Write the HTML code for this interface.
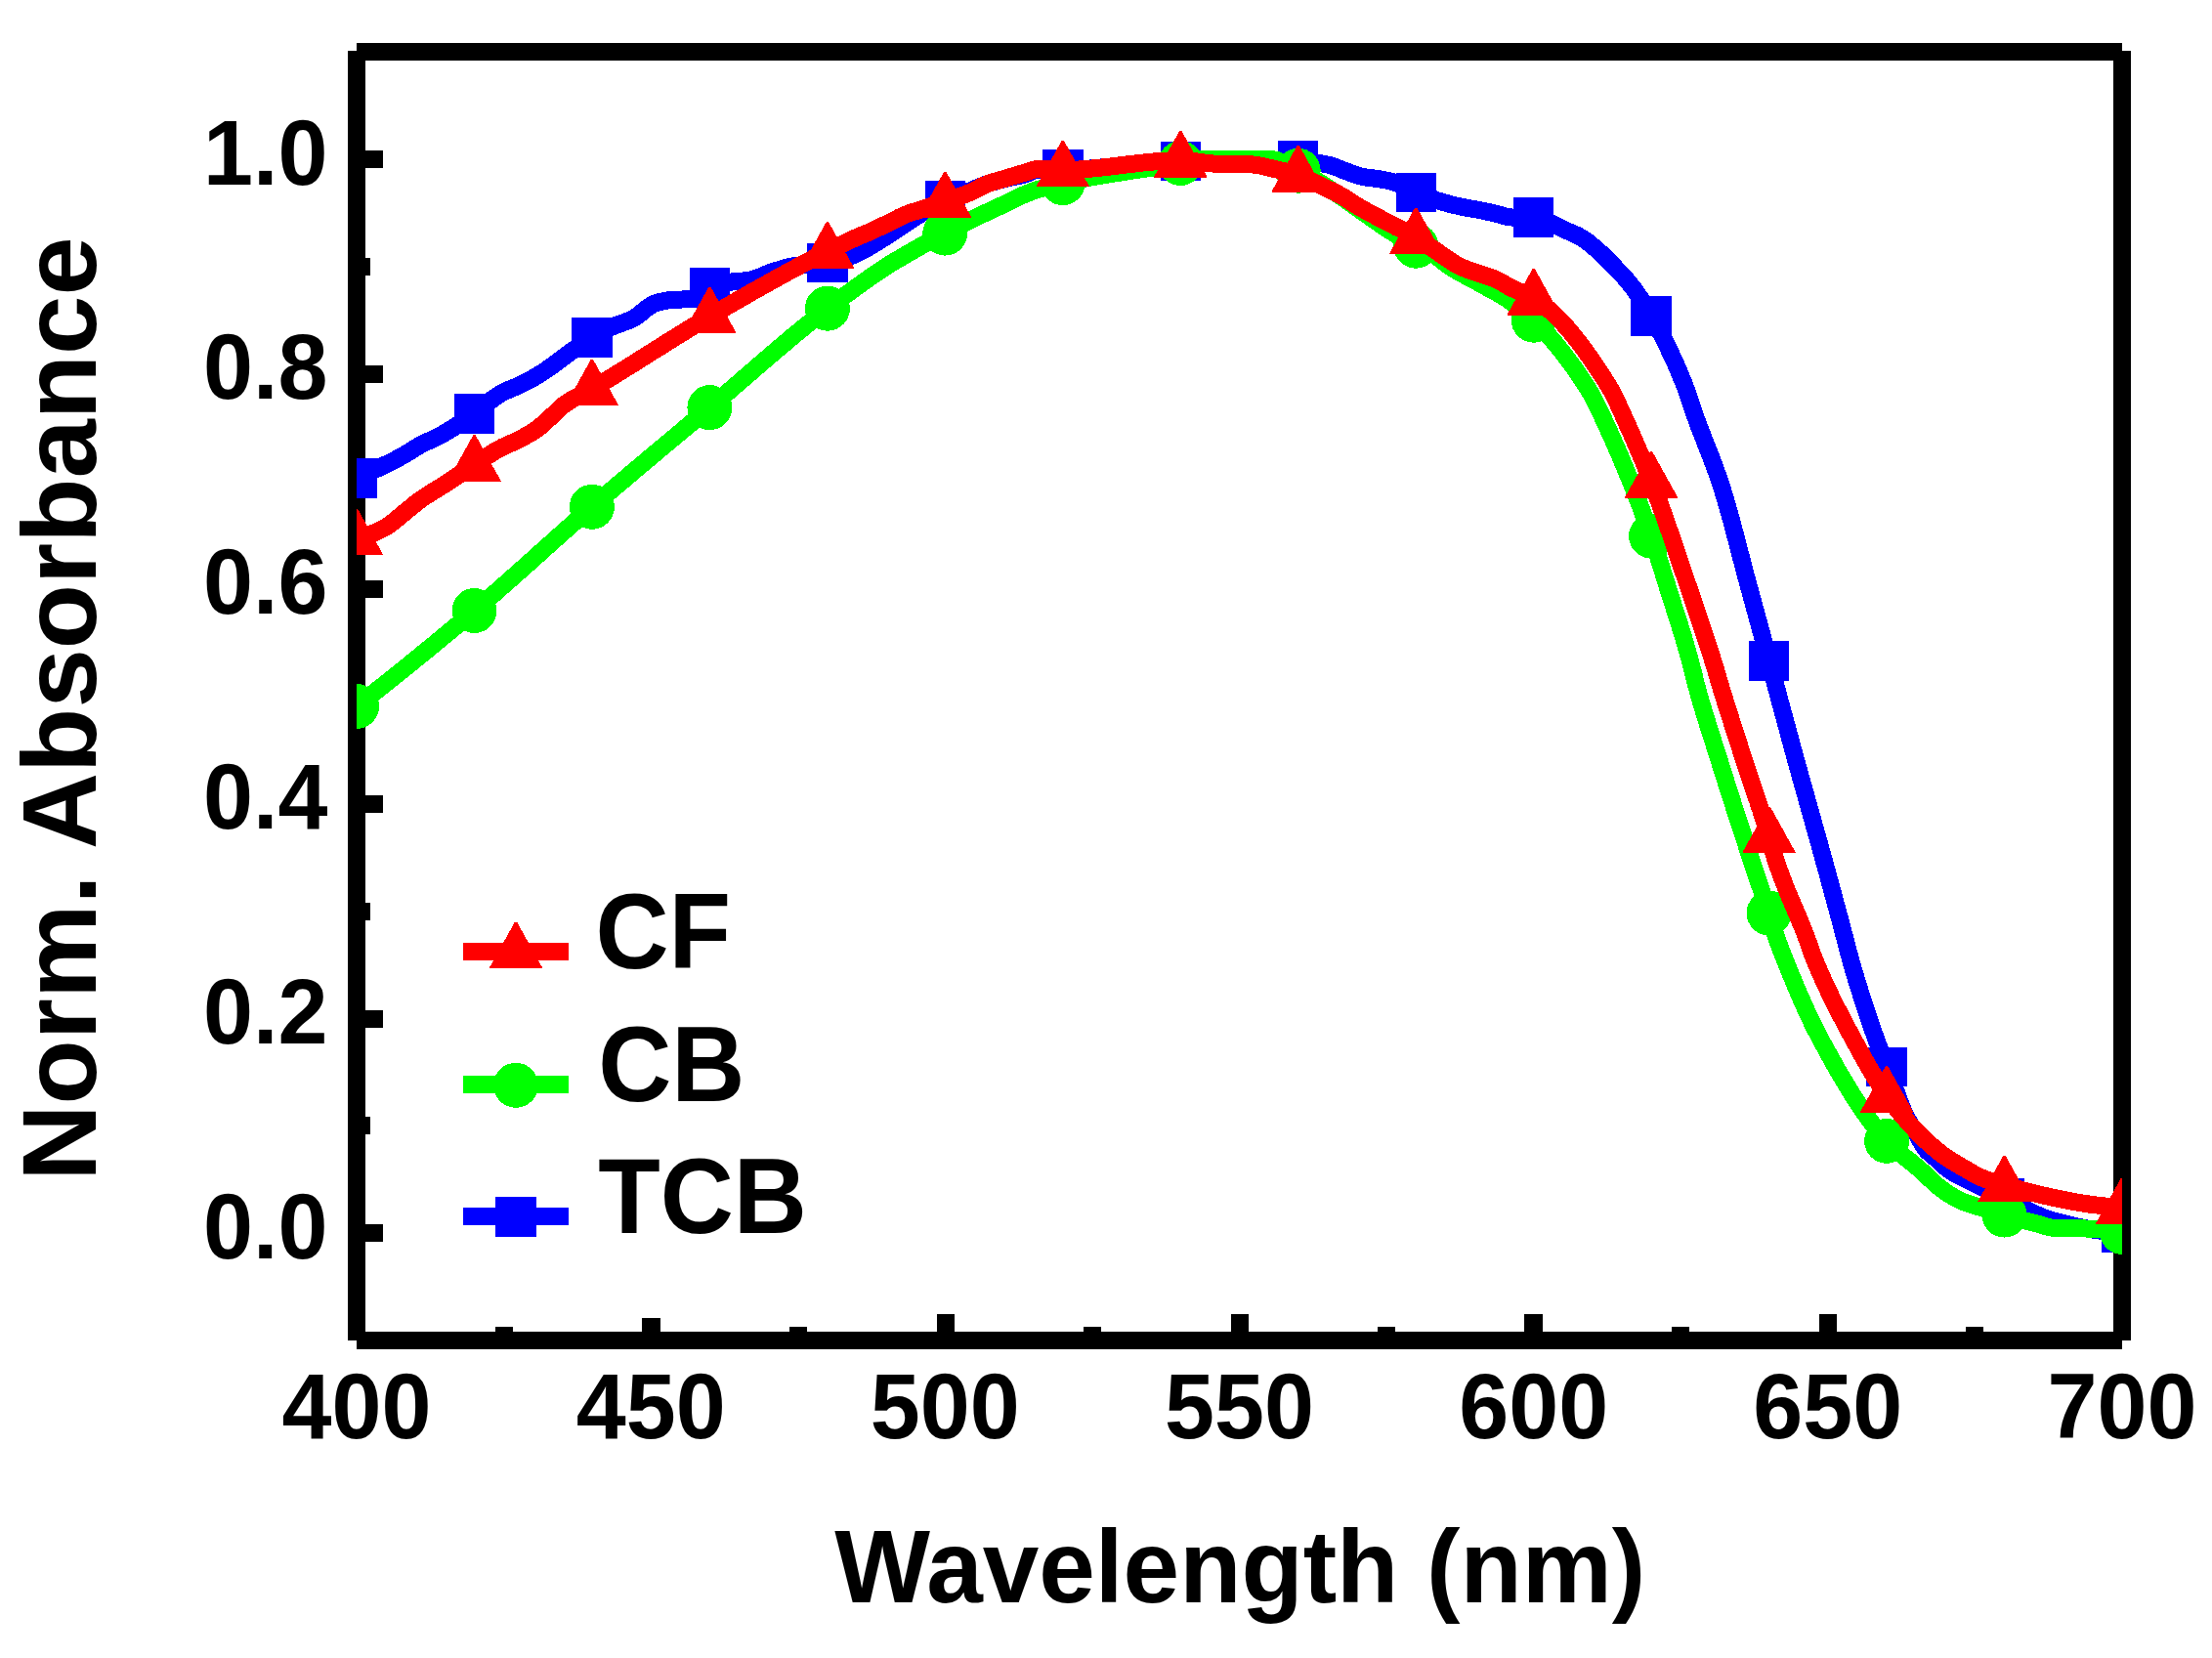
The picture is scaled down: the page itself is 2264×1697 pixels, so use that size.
<!DOCTYPE html>
<html><head><meta charset="utf-8"><title>Absorbance</title><style>html,body{margin:0;padding:0;background:#fff}body{width:2264px;height:1697px;overflow:hidden}text{font-family:"Liberation Sans",Arial,sans-serif;font-weight:bold}</style></head><body>
<svg width="2264" height="1697" viewBox="0 0 2264 1697" style="display:block" shape-rendering="crispEdges">
<rect width="2264" height="1697" fill="#fff"/>
<g fill="#000">
<rect x="365" y="44" width="1807" height="18"/><rect x="365" y="1363" width="1807" height="18"/><rect x="356" y="52" width="18" height="1320"/><rect x="2163" y="52" width="18" height="1320"/>
</g>
<g fill="#000">
<rect x="365" y="1253" width="27" height="18"/>
<rect x="365" y="1034" width="27" height="18"/>
<rect x="365" y="814" width="27" height="18"/>
<rect x="365" y="594" width="27" height="18"/>
<rect x="365" y="374" width="27" height="18"/>
<rect x="365" y="154" width="27" height="18"/>
<rect x="365" y="1363" width="14" height="18"/>
<rect x="365" y="1143" width="14" height="18"/>
<rect x="365" y="924" width="14" height="18"/>
<rect x="365" y="704" width="14" height="18"/>
<rect x="365" y="484" width="14" height="18"/>
<rect x="365" y="264" width="14" height="18"/>
<rect x="657" y="1349" width="19" height="23"/>
<rect x="959" y="1345" width="18" height="27"/>
<rect x="1260" y="1345" width="18" height="27"/>
<rect x="1560" y="1345" width="19" height="27"/>
<rect x="1862" y="1345" width="18" height="27"/>
<rect x="507" y="1358" width="18" height="14"/>
<rect x="808" y="1358" width="18" height="14"/>
<rect x="1109" y="1358" width="18" height="14"/>
<rect x="1410" y="1358" width="18" height="14"/>
<rect x="1711" y="1358" width="18" height="14"/>
<rect x="2012" y="1358" width="18" height="14"/>
</g>
<clipPath id="c"><rect x="365.0" y="53.0" width="1807.0" height="1319.0"/></clipPath>
<g clip-path="url(#c)" stroke-linejoin="round" fill="none">
<path d="M365.0,489.2 L368.0,487.9 L371.0,486.6 L374.0,485.2 L377.0,483.9 L380.0,482.5 L383.0,481.1 L386.0,479.7 L389.0,478.3 L392.0,476.8 L395.0,475.3 L398.0,473.9 L401.0,472.4 L404.0,470.9 L407.0,469.3 L410.0,467.7 L413.0,466.0 L416.0,464.3 L419.0,462.4 L422.0,460.5 L425.0,458.6 L428.0,456.8 L431.0,455.1 L434.0,453.6 L437.0,452.2 L440.0,450.9 L443.0,449.5 L446.0,448.1 L449.0,446.6 L452.0,444.9 L455.0,443.2 L458.0,441.5 L461.0,439.6 L464.0,437.8 L467.0,435.9 L470.0,433.9 L473.0,431.9 L476.0,429.9 L479.0,427.9 L482.0,425.8 L485.0,423.7 L488.0,421.6 L491.0,419.3 L494.0,416.8 L497.0,414.3 L500.0,411.8 L503.0,409.4 L506.0,407.1 L509.0,405.0 L512.0,403.1 L515.0,401.5 L518.0,400.1 L521.0,398.8 L524.0,397.6 L527.0,396.4 L530.0,395.0 L533.0,393.6 L536.0,392.1 L539.0,390.6 L542.0,389.0 L545.0,387.4 L548.0,385.7 L551.0,383.9 L554.0,382.0 L557.0,380.0 L560.0,378.0 L563.0,375.9 L566.0,373.7 L569.0,371.5 L572.0,369.3 L575.0,367.1 L578.0,364.8 L581.0,362.6 L584.0,360.3 L587.0,358.1 L590.0,356.0 L593.0,353.8 L596.0,351.7 L599.0,349.7 L602.0,347.8 L605.0,345.9 L608.0,344.2 L611.0,342.4 L614.0,340.7 L617.0,339.1 L620.0,337.5 L623.0,336.1 L626.0,334.7 L629.0,333.4 L632.0,332.3 L635.0,331.2 L638.0,330.2 L641.0,329.1 L644.0,327.9 L647.0,326.5 L650.0,324.8 L653.0,322.7 L656.0,320.4 L659.0,317.9 L662.0,315.5 L665.0,313.4 L668.0,311.6 L671.0,310.2 L674.0,309.4 L677.0,308.7 L680.0,308.1 L683.0,307.5 L686.0,307.1 L689.0,306.8 L692.0,306.7 L695.0,306.6 L698.0,306.5 L701.0,306.3 L704.0,306.2 L707.0,305.7 L710.0,304.8 L713.0,303.6 L716.0,302.3 L719.0,300.9 L722.0,299.4 L725.0,298.1 L728.0,296.8 L731.0,295.4 L734.0,293.9 L737.0,292.4 L740.0,291.0 L743.0,289.8 L746.0,289.0 L749.0,288.5 L752.0,288.2 L755.0,287.9 L758.0,287.7 L761.0,287.5 L764.0,287.2 L767.0,286.8 L770.0,286.1 L773.0,285.2 L776.0,284.0 L779.0,282.8 L782.0,281.6 L785.0,280.4 L788.0,279.2 L791.0,278.0 L794.0,277.1 L797.0,276.2 L800.0,275.3 L803.0,274.4 L806.0,273.6 L809.0,272.9 L812.0,272.3 L815.0,271.8 L818.0,271.4 L821.0,271.0 L824.0,270.8 L827.0,270.5 L830.0,270.3 L833.0,270.2 L836.0,270.0 L839.0,269.8 L842.0,269.5 L845.0,269.2 L848.0,268.9 L851.0,268.4 L854.0,267.8 L857.0,267.0 L860.0,266.2 L863.0,265.2 L866.0,264.2 L869.0,263.0 L872.0,261.8 L875.0,260.4 L878.0,259.0 L881.0,257.5 L884.0,255.9 L887.0,254.3 L890.0,252.6 L893.0,250.8 L896.0,249.0 L899.0,247.2 L902.0,245.3 L905.0,243.4 L908.0,241.4 L911.0,239.5 L914.0,237.5 L917.0,235.5 L920.0,233.5 L923.0,231.5 L926.0,229.5 L929.0,227.5 L932.0,225.5 L935.0,223.6 L938.0,221.7 L941.0,219.8 L944.0,217.9 L947.0,216.1 L950.0,214.4 L953.0,212.7 L956.0,211.0 L959.0,209.5 L962.0,208.0 L965.0,206.5 L968.0,205.2 L971.0,203.9 L974.0,202.7 L977.0,201.5 L980.0,200.3 L983.0,199.2 L986.0,198.0 L989.0,196.8 L992.0,195.7 L995.0,194.4 L998.0,193.2 L1001.0,191.9 L1004.0,190.7 L1007.0,189.5 L1010.0,188.4 L1013.0,187.4 L1016.0,186.4 L1019.0,185.6 L1022.0,184.7 L1025.0,183.9 L1028.0,183.1 L1031.0,182.5 L1034.0,181.8 L1037.0,181.2 L1040.0,180.5 L1043.0,179.9 L1046.0,179.2 L1049.0,178.4 L1052.0,177.3 L1055.0,176.0 L1058.0,174.7 L1061.0,173.8 L1064.0,173.5 L1067.0,173.5 L1070.0,173.5 L1073.0,173.5 L1076.0,173.6 L1079.0,173.6 L1082.0,173.6 L1085.0,173.6 L1088.0,173.6 L1091.0,173.6 L1094.0,173.5 L1097.0,173.5 L1100.0,173.4 L1103.0,173.2 L1106.0,173.1 L1109.0,172.9 L1112.0,172.7 L1115.0,172.5 L1118.0,172.3 L1121.0,172.0 L1124.0,171.8 L1127.0,171.5 L1130.0,171.2 L1133.0,170.9 L1136.0,170.6 L1139.0,170.3 L1142.0,170.0 L1145.0,169.6 L1148.0,169.3 L1151.0,169.0 L1154.0,168.7 L1157.0,168.4 L1160.0,168.1 L1163.0,167.7 L1166.0,167.4 L1169.0,167.2 L1172.0,166.9 L1175.0,166.6 L1178.0,166.4 L1181.0,166.1 L1184.0,165.9 L1187.0,165.7 L1190.0,165.5 L1193.0,165.3 L1196.0,165.2 L1199.0,165.1 L1202.0,165.0 L1205.0,164.9 L1208.0,164.9 L1211.0,164.9 L1214.0,164.9 L1217.0,164.9 L1220.0,164.8 L1223.0,164.8 L1226.0,164.8 L1229.0,164.8 L1232.0,164.8 L1235.0,164.8 L1238.0,164.8 L1241.0,164.8 L1244.0,164.8 L1247.0,164.7 L1250.0,164.7 L1253.0,164.7 L1256.0,164.7 L1259.0,164.7 L1262.0,164.7 L1265.0,164.7 L1268.0,164.7 L1271.0,164.7 L1274.0,164.7 L1277.0,164.7 L1280.0,164.7 L1283.0,164.6 L1286.0,164.6 L1289.0,164.6 L1292.0,164.6 L1295.0,164.6 L1298.0,164.6 L1301.0,164.6 L1304.0,164.6 L1307.0,164.6 L1310.0,164.6 L1313.0,164.6 L1316.0,164.6 L1319.0,164.6 L1322.0,164.6 L1325.0,164.6 L1328.0,164.6 L1331.0,164.6 L1334.0,164.8 L1337.0,165.0 L1340.0,165.3 L1343.0,165.7 L1346.0,166.1 L1349.0,166.6 L1352.0,167.2 L1355.0,167.8 L1358.0,168.4 L1361.0,169.0 L1364.0,169.9 L1367.0,171.0 L1370.0,172.2 L1373.0,173.5 L1376.0,174.7 L1379.0,175.8 L1382.0,176.9 L1385.0,178.0 L1388.0,179.0 L1391.0,179.9 L1394.0,180.7 L1397.0,181.3 L1400.0,181.8 L1403.0,182.2 L1406.0,182.5 L1409.0,182.9 L1412.0,183.3 L1415.0,183.8 L1418.0,184.4 L1421.0,185.0 L1424.0,185.8 L1427.0,186.6 L1430.0,187.7 L1433.0,188.9 L1436.0,190.4 L1439.0,191.9 L1442.0,193.5 L1445.0,195.0 L1448.0,196.4 L1451.0,197.6 L1454.0,198.8 L1457.0,200.0 L1460.0,201.2 L1463.0,202.3 L1466.0,203.4 L1469.0,204.5 L1472.0,205.5 L1475.0,206.4 L1478.0,207.3 L1481.0,208.1 L1484.0,208.9 L1487.0,209.7 L1490.0,210.4 L1493.0,211.0 L1496.0,211.7 L1499.0,212.3 L1502.0,212.8 L1505.0,213.4 L1508.0,213.9 L1511.0,214.4 L1514.0,215.0 L1517.0,215.6 L1520.0,216.3 L1523.0,216.9 L1526.0,217.5 L1529.0,218.2 L1532.0,218.9 L1535.0,219.8 L1538.0,220.7 L1541.0,221.5 L1544.0,222.2 L1547.0,222.5 L1550.0,222.5 L1553.0,222.5 L1556.0,222.4 L1559.0,222.4 L1562.0,222.4 L1565.0,222.3 L1568.0,222.3 L1571.0,222.3 L1574.0,222.7 L1577.0,223.5 L1580.0,224.6 L1583.0,225.9 L1586.0,227.4 L1589.0,229.0 L1592.0,230.6 L1595.0,232.2 L1598.0,233.7 L1601.0,235.1 L1604.0,236.4 L1607.0,237.6 L1610.0,238.9 L1613.0,240.3 L1616.0,241.8 L1619.0,243.5 L1622.0,245.4 L1625.0,247.6 L1628.0,250.0 L1631.0,252.5 L1634.0,255.1 L1637.0,257.8 L1640.0,260.5 L1643.0,263.4 L1646.0,266.4 L1649.0,269.5 L1652.0,272.6 L1655.0,275.8 L1658.0,278.9 L1661.0,282.1 L1664.0,285.5 L1667.0,289.0 L1670.0,292.8 L1673.0,296.8 L1676.0,301.0 L1679.0,305.4 L1682.0,310.0 L1685.0,314.8 L1688.0,319.8 L1691.0,325.0 L1694.0,330.3 L1697.0,335.7 L1700.0,341.4 L1703.0,347.2 L1706.0,353.2 L1709.0,359.4 L1712.0,365.8 L1715.0,372.4 L1718.0,379.3 L1721.0,386.5 L1724.0,393.9 L1727.0,401.6 L1730.0,410.7 L1733.0,420.0 L1736.0,428.5 L1739.0,436.5 L1742.0,444.4 L1745.0,452.0 L1748.0,459.7 L1751.0,467.4 L1754.0,475.3 L1757.0,483.5 L1760.0,492.1 L1763.0,501.3 L1766.0,511.1 L1769.0,521.5 L1772.0,532.3 L1775.0,543.6 L1778.0,555.0 L1781.0,566.6 L1784.0,578.2 L1787.0,589.6 L1790.0,600.7 L1793.0,611.7 L1796.0,622.7 L1799.0,633.7 L1802.0,644.7 L1805.0,655.7 L1808.0,666.7 L1811.0,677.8 L1814.0,688.8 L1817.0,699.9 L1820.0,711.1 L1823.0,722.2 L1826.0,733.3 L1829.0,744.4 L1832.0,755.5 L1835.0,766.5 L1838.0,777.5 L1841.0,788.3 L1844.0,799.1 L1847.0,809.9 L1850.0,820.5 L1853.0,831.2 L1856.0,841.9 L1859.0,852.6 L1862.0,863.3 L1865.0,874.2 L1868.0,885.1 L1871.0,896.1 L1874.0,907.1 L1877.0,918.1 L1880.0,929.3 L1883.0,940.4 L1886.0,951.7 L1889.0,963.1 L1892.0,974.8 L1895.0,985.6 L1898.0,995.9 L1901.0,1005.8 L1904.0,1015.5 L1907.0,1024.9 L1910.0,1034.1 L1913.0,1043.0 L1916.0,1051.7 L1919.0,1060.3 L1922.0,1068.5 L1925.0,1076.3 L1928.0,1084.0 L1931.0,1091.7 L1934.0,1099.7 L1937.0,1107.8 L1940.0,1115.7 L1943.0,1123.8 L1946.0,1131.8 L1949.0,1139.0 L1952.0,1144.8 L1955.0,1150.0 L1958.0,1154.8 L1961.0,1159.4 L1964.0,1164.6 L1967.0,1170.3 L1970.0,1175.1 L1973.0,1178.4 L1976.0,1181.1 L1979.0,1183.6 L1982.0,1186.1 L1985.0,1188.8 L1988.0,1191.7 L1991.0,1194.5 L1994.0,1197.0 L1997.0,1199.0 L2000.0,1200.8 L2003.0,1202.4 L2006.0,1204.0 L2009.0,1205.5 L2012.0,1207.0 L2015.0,1208.4 L2018.0,1209.9 L2021.0,1211.4 L2024.0,1212.9 L2027.0,1214.4 L2030.0,1215.9 L2033.0,1217.4 L2036.0,1218.9 L2039.0,1220.4 L2042.0,1221.9 L2045.0,1223.4 L2048.0,1224.8 L2051.0,1226.3 L2054.0,1227.7 L2057.0,1229.2 L2060.0,1230.7 L2063.0,1232.3 L2066.0,1233.8 L2069.0,1235.4 L2072.0,1236.9 L2075.0,1238.5 L2078.0,1240.0 L2081.0,1241.4 L2084.0,1242.8 L2087.0,1244.2 L2090.0,1245.5 L2093.0,1246.7 L2096.0,1247.8 L2099.0,1248.7 L2102.0,1249.6 L2105.0,1250.4 L2108.0,1251.1 L2111.0,1251.8 L2114.0,1252.6 L2117.0,1253.3 L2120.0,1254.0 L2123.0,1254.7 L2126.0,1255.4 L2129.0,1256.0 L2132.0,1256.6 L2135.0,1257.2 L2138.0,1257.8 L2141.0,1258.3 L2144.0,1258.8 L2147.0,1259.3 L2150.0,1259.7 L2153.0,1260.1 L2156.0,1260.4 L2159.0,1260.7 L2162.0,1260.9 L2165.0,1261.1 L2168.0,1261.2 L2171.0,1261.3 L2172.0,1261.3" stroke="#0000ff" stroke-width="18"/>
<rect x="344.3" y="468.8" width="41.4" height="40.8" fill="#0000ff"/>
<rect x="464.8" y="403.0" width="41.4" height="40.8" fill="#0000ff"/>
<rect x="585.2" y="325.0" width="41.4" height="40.8" fill="#0000ff"/>
<rect x="705.7" y="273.9" width="41.4" height="40.8" fill="#0000ff"/>
<rect x="826.2" y="248.6" width="41.4" height="40.8" fill="#0000ff"/>
<rect x="946.6" y="185.1" width="41.4" height="40.8" fill="#0000ff"/>
<rect x="1067.1" y="153.2" width="41.4" height="40.8" fill="#0000ff"/>
<rect x="1187.6" y="144.5" width="41.4" height="40.8" fill="#0000ff"/>
<rect x="1308.0" y="144.2" width="41.4" height="40.8" fill="#0000ff"/>
<rect x="1428.5" y="176.5" width="41.4" height="40.8" fill="#0000ff"/>
<rect x="1549.0" y="201.9" width="41.4" height="40.8" fill="#0000ff"/>
<rect x="1669.4" y="303.0" width="41.4" height="40.8" fill="#0000ff"/>
<rect x="1789.9" y="655.9" width="41.4" height="40.8" fill="#0000ff"/>
<rect x="1910.4" y="1071.6" width="41.4" height="40.8" fill="#0000ff"/>
<rect x="2030.8" y="1206.1" width="41.4" height="40.8" fill="#0000ff"/>
<rect x="2151.3" y="1240.9" width="41.4" height="40.8" fill="#0000ff"/>
<path d="M365.0,722.9 L368.0,720.6 L371.0,718.2 L374.0,715.9 L377.0,713.5 L380.0,711.2 L383.0,708.8 L386.0,706.4 L389.0,704.1 L392.0,701.7 L395.0,699.3 L398.0,696.9 L401.0,694.5 L404.0,692.1 L407.0,689.7 L410.0,687.3 L413.0,684.9 L416.0,682.5 L419.0,680.0 L422.0,677.6 L425.0,675.2 L428.0,672.7 L431.0,670.3 L434.0,667.8 L437.0,665.4 L440.0,662.9 L443.0,660.5 L446.0,658.0 L449.0,655.5 L452.0,653.0 L455.0,650.5 L458.0,648.1 L461.0,645.6 L464.0,643.1 L467.0,640.6 L470.0,638.0 L473.0,635.5 L476.0,633.0 L479.0,630.5 L482.0,628.0 L485.0,625.4 L488.0,622.9 L491.0,620.3 L494.0,617.8 L497.0,615.2 L500.0,612.6 L503.0,610.0 L506.0,607.4 L509.0,604.8 L512.0,602.1 L515.0,599.5 L518.0,596.8 L521.0,594.2 L524.0,591.5 L527.0,588.9 L530.0,586.2 L533.0,583.5 L536.0,580.8 L539.0,578.2 L542.0,575.5 L545.0,572.8 L548.0,570.1 L551.0,567.4 L554.0,564.7 L557.0,562.0 L560.0,559.3 L563.0,556.7 L566.0,554.0 L569.0,551.3 L572.0,548.6 L575.0,545.9 L578.0,543.3 L581.0,540.6 L584.0,538.0 L587.0,535.3 L590.0,532.7 L593.0,530.0 L596.0,527.4 L599.0,524.8 L602.0,522.2 L605.0,519.6 L608.0,517.0 L611.0,514.4 L614.0,511.8 L617.0,509.3 L620.0,506.7 L623.0,504.1 L626.0,501.6 L629.0,499.0 L632.0,496.5 L635.0,493.9 L638.0,491.4 L641.0,488.8 L644.0,486.3 L647.0,483.8 L650.0,481.2 L653.0,478.7 L656.0,476.2 L659.0,473.7 L662.0,471.1 L665.0,468.6 L668.0,466.1 L671.0,463.6 L674.0,461.1 L677.0,458.5 L680.0,456.0 L683.0,453.5 L686.0,451.0 L689.0,448.5 L692.0,446.0 L695.0,443.5 L698.0,441.0 L701.0,438.4 L704.0,435.9 L707.0,433.4 L710.0,430.9 L713.0,428.4 L716.0,425.9 L719.0,423.3 L722.0,420.8 L725.0,418.3 L728.0,415.8 L731.0,413.2 L734.0,410.7 L737.0,408.1 L740.0,405.5 L743.0,403.0 L746.0,400.4 L749.0,397.8 L752.0,395.2 L755.0,392.7 L758.0,390.1 L761.0,387.5 L764.0,384.9 L767.0,382.3 L770.0,379.7 L773.0,377.1 L776.0,374.5 L779.0,371.9 L782.0,369.3 L785.0,366.8 L788.0,364.2 L791.0,361.6 L794.0,359.0 L797.0,356.5 L800.0,353.9 L803.0,351.4 L806.0,348.9 L809.0,346.3 L812.0,343.8 L815.0,341.3 L818.0,338.9 L821.0,336.4 L824.0,333.9 L827.0,331.5 L830.0,329.1 L833.0,326.6 L836.0,324.2 L839.0,321.9 L842.0,319.5 L845.0,317.2 L848.0,314.9 L851.0,312.6 L854.0,310.3 L857.0,308.1 L860.0,305.9 L863.0,303.8 L866.0,301.6 L869.0,299.4 L872.0,297.3 L875.0,295.1 L878.0,292.9 L881.0,290.8 L884.0,288.6 L887.0,286.4 L890.0,284.3 L893.0,282.2 L896.0,280.2 L899.0,278.1 L902.0,276.1 L905.0,274.1 L908.0,272.1 L911.0,270.3 L914.0,268.4 L917.0,266.6 L920.0,264.9 L923.0,263.2 L926.0,261.5 L929.0,259.7 L932.0,258.0 L935.0,256.2 L938.0,254.5 L941.0,252.8 L944.0,251.1 L947.0,249.5 L950.0,247.8 L953.0,246.2 L956.0,244.6 L959.0,243.0 L962.0,241.4 L965.0,239.8 L968.0,238.2 L971.0,236.7 L974.0,235.1 L977.0,233.6 L980.0,232.0 L983.0,230.5 L986.0,229.0 L989.0,227.5 L992.0,226.0 L995.0,224.5 L998.0,223.0 L1001.0,221.6 L1004.0,220.1 L1007.0,218.7 L1010.0,217.3 L1013.0,215.9 L1016.0,214.5 L1019.0,213.1 L1022.0,211.7 L1025.0,210.3 L1028.0,208.9 L1031.0,207.5 L1034.0,206.1 L1037.0,204.7 L1040.0,203.2 L1043.0,201.7 L1046.0,200.2 L1049.0,198.8 L1052.0,197.6 L1055.0,196.5 L1058.0,195.4 L1061.0,194.4 L1064.0,193.5 L1067.0,192.6 L1070.0,191.7 L1073.0,190.9 L1076.0,190.0 L1079.0,189.2 L1082.0,188.5 L1085.0,187.7 L1088.0,187.1 L1091.0,186.4 L1094.0,185.8 L1097.0,185.2 L1100.0,184.6 L1103.0,184.0 L1106.0,183.4 L1109.0,182.8 L1112.0,182.3 L1115.0,181.7 L1118.0,181.2 L1121.0,180.7 L1124.0,180.2 L1127.0,179.7 L1130.0,179.2 L1133.0,178.7 L1136.0,178.2 L1139.0,177.7 L1142.0,177.2 L1145.0,176.8 L1148.0,176.3 L1151.0,175.8 L1154.0,175.4 L1157.0,174.9 L1160.0,174.5 L1163.0,174.0 L1166.0,173.6 L1169.0,173.1 L1172.0,172.7 L1175.0,172.2 L1178.0,171.8 L1181.0,171.3 L1184.0,170.9 L1187.0,170.4 L1190.0,169.9 L1193.0,169.5 L1196.0,169.0 L1199.0,168.5 L1202.0,168.0 L1205.0,167.5 L1208.0,167.1 L1211.0,166.5 L1214.0,165.9 L1217.0,165.2 L1220.0,164.5 L1223.0,163.9 L1226.0,163.4 L1229.0,163.1 L1232.0,163.0 L1235.0,163.0 L1238.0,163.0 L1241.0,163.0 L1244.0,163.0 L1247.0,163.0 L1250.0,163.0 L1253.0,163.0 L1256.0,163.0 L1259.0,163.0 L1262.0,163.0 L1265.0,163.0 L1268.0,163.0 L1271.0,163.0 L1274.0,163.0 L1277.0,163.0 L1280.0,163.0 L1283.0,163.0 L1286.0,163.0 L1289.0,163.0 L1292.0,163.0 L1295.0,163.0 L1298.0,163.0 L1301.0,163.0 L1304.0,163.4 L1307.0,164.1 L1310.0,165.2 L1313.0,166.5 L1316.0,168.0 L1319.0,169.6 L1322.0,171.2 L1325.0,172.8 L1328.0,174.4 L1331.0,175.8 L1334.0,177.3 L1337.0,178.9 L1340.0,180.5 L1343.0,182.2 L1346.0,184.0 L1349.0,185.8 L1352.0,187.6 L1355.0,189.5 L1358.0,191.4 L1361.0,193.4 L1364.0,195.4 L1367.0,197.4 L1370.0,199.4 L1373.0,201.5 L1376.0,203.6 L1379.0,205.7 L1382.0,207.8 L1385.0,210.0 L1388.0,212.1 L1391.0,214.2 L1394.0,216.4 L1397.0,218.5 L1400.0,220.6 L1403.0,222.8 L1406.0,224.9 L1409.0,226.9 L1412.0,229.0 L1415.0,231.1 L1418.0,233.1 L1421.0,235.1 L1424.0,237.0 L1427.0,239.0 L1430.0,240.8 L1433.0,242.7 L1436.0,244.5 L1439.0,246.2 L1442.0,247.9 L1445.0,249.5 L1448.0,251.1 L1451.0,252.6 L1454.0,253.9 L1457.0,255.1 L1460.0,256.4 L1463.0,257.8 L1466.0,259.5 L1469.0,261.5 L1472.0,263.7 L1475.0,266.1 L1478.0,268.4 L1481.0,270.7 L1484.0,272.8 L1487.0,274.8 L1490.0,276.6 L1493.0,278.3 L1496.0,280.0 L1499.0,281.7 L1502.0,283.3 L1505.0,284.9 L1508.0,286.5 L1511.0,288.1 L1514.0,289.8 L1517.0,291.5 L1520.0,293.1 L1523.0,294.7 L1526.0,296.4 L1529.0,298.0 L1532.0,299.6 L1535.0,301.4 L1538.0,303.1 L1541.0,305.0 L1544.0,307.0 L1547.0,309.1 L1550.0,311.3 L1553.0,313.5 L1556.0,315.8 L1559.0,318.2 L1562.0,320.7 L1565.0,323.4 L1568.0,326.1 L1571.0,328.9 L1574.0,331.9 L1577.0,334.9 L1580.0,338.1 L1583.0,341.3 L1586.0,344.6 L1589.0,348.1 L1592.0,351.6 L1595.0,355.3 L1598.0,359.0 L1601.0,362.9 L1604.0,366.8 L1607.0,370.9 L1610.0,375.0 L1613.0,379.3 L1616.0,383.7 L1619.0,388.2 L1622.0,392.7 L1625.0,397.4 L1628.0,402.3 L1631.0,407.8 L1634.0,413.8 L1637.0,420.0 L1640.0,426.3 L1643.0,432.7 L1646.0,439.3 L1649.0,445.9 L1652.0,452.6 L1655.0,459.5 L1658.0,466.4 L1661.0,473.5 L1664.0,480.7 L1667.0,488.0 L1670.0,495.5 L1673.0,503.0 L1676.0,510.7 L1679.0,518.5 L1682.0,526.5 L1685.0,534.5 L1688.0,542.8 L1691.0,551.1 L1694.0,560.0 L1697.0,569.3 L1700.0,578.9 L1703.0,588.7 L1706.0,598.4 L1709.0,607.9 L1712.0,617.3 L1715.0,626.7 L1718.0,636.2 L1721.0,645.8 L1724.0,655.7 L1727.0,665.9 L1730.0,676.7 L1733.0,688.5 L1736.0,700.7 L1739.0,711.6 L1742.0,722.0 L1745.0,731.9 L1748.0,741.6 L1751.0,751.1 L1754.0,760.5 L1757.0,769.9 L1760.0,779.4 L1763.0,788.9 L1766.0,798.4 L1769.0,807.8 L1772.0,817.2 L1775.0,826.6 L1778.0,835.9 L1781.0,845.1 L1784.0,854.3 L1787.0,863.5 L1790.0,872.7 L1793.0,881.8 L1796.0,890.8 L1799.0,899.7 L1802.0,908.5 L1805.0,917.4 L1808.0,926.4 L1811.0,935.8 L1814.0,945.8 L1817.0,955.7 L1820.0,964.6 L1823.0,972.6 L1826.0,980.2 L1829.0,987.7 L1832.0,995.1 L1835.0,1002.3 L1838.0,1009.5 L1841.0,1016.6 L1844.0,1023.5 L1847.0,1030.3 L1850.0,1036.9 L1853.0,1043.3 L1856.0,1049.5 L1859.0,1055.4 L1862.0,1061.1 L1865.0,1066.7 L1868.0,1072.2 L1871.0,1077.7 L1874.0,1083.1 L1877.0,1088.5 L1880.0,1093.8 L1883.0,1099.0 L1886.0,1104.1 L1889.0,1109.1 L1892.0,1114.1 L1895.0,1118.9 L1898.0,1123.7 L1901.0,1128.3 L1904.0,1132.8 L1907.0,1137.2 L1910.0,1141.5 L1913.0,1145.7 L1916.0,1149.7 L1919.0,1153.6 L1922.0,1157.4 L1925.0,1161.0 L1928.0,1164.4 L1931.0,1167.7 L1934.0,1170.8 L1937.0,1173.7 L1940.0,1176.4 L1943.0,1179.0 L1946.0,1181.5 L1949.0,1183.9 L1952.0,1186.3 L1955.0,1188.6 L1958.0,1191.0 L1961.0,1193.5 L1964.0,1196.1 L1967.0,1198.7 L1970.0,1201.5 L1973.0,1204.4 L1976.0,1207.3 L1979.0,1210.1 L1982.0,1212.8 L1985.0,1215.3 L1988.0,1217.6 L1991.0,1219.7 L1994.0,1221.7 L1997.0,1223.6 L2000.0,1225.4 L2003.0,1227.1 L2006.0,1228.6 L2009.0,1230.0 L2012.0,1231.1 L2015.0,1232.1 L2018.0,1233.0 L2021.0,1233.9 L2024.0,1234.9 L2027.0,1235.8 L2030.0,1236.8 L2033.0,1237.8 L2036.0,1238.8 L2039.0,1239.7 L2042.0,1240.7 L2045.0,1241.6 L2048.0,1242.6 L2051.0,1243.5 L2054.0,1244.3 L2057.0,1245.2 L2060.0,1246.0 L2063.0,1246.8 L2066.0,1247.6 L2069.0,1248.4 L2072.0,1249.2 L2075.0,1249.9 L2078.0,1250.7 L2081.0,1251.4 L2084.0,1252.2 L2087.0,1253.1 L2090.0,1254.0 L2093.0,1254.9 L2096.0,1255.7 L2099.0,1256.4 L2102.0,1256.8 L2105.0,1257.0 L2108.0,1257.0 L2111.0,1257.1 L2114.0,1257.2 L2117.0,1257.2 L2120.0,1257.3 L2123.0,1257.3 L2126.0,1257.3 L2129.0,1257.4 L2132.0,1257.4 L2135.0,1257.5 L2138.0,1257.5 L2141.0,1257.6 L2144.0,1257.8 L2147.0,1258.0 L2150.0,1258.2 L2153.0,1258.5 L2156.0,1258.8 L2159.0,1259.2 L2162.0,1259.5 L2165.0,1259.9 L2168.0,1260.3 L2171.0,1260.8 L2172.0,1260.9" stroke="#00ff00" stroke-width="18"/>
<circle cx="365.0" cy="722.9" r="23" fill="#00ff00"/>
<circle cx="485.5" cy="625.0" r="23" fill="#00ff00"/>
<circle cx="605.9" cy="518.8" r="23" fill="#00ff00"/>
<circle cx="726.4" cy="417.1" r="23" fill="#00ff00"/>
<circle cx="846.9" cy="315.7" r="23" fill="#00ff00"/>
<circle cx="967.3" cy="238.6" r="23" fill="#00ff00"/>
<circle cx="1087.8" cy="187.1" r="23" fill="#00ff00"/>
<circle cx="1208.3" cy="167.0" r="23" fill="#00ff00"/>
<circle cx="1328.7" cy="174.7" r="23" fill="#00ff00"/>
<circle cx="1449.2" cy="251.7" r="23" fill="#00ff00"/>
<circle cx="1569.7" cy="327.7" r="23" fill="#00ff00"/>
<circle cx="1690.1" cy="548.6" r="23" fill="#00ff00"/>
<circle cx="1810.6" cy="934.5" r="23" fill="#00ff00"/>
<circle cx="1931.1" cy="1167.8" r="23" fill="#00ff00"/>
<circle cx="2051.5" cy="1243.6" r="23" fill="#00ff00"/>
<circle cx="2172.0" cy="1260.9" r="23" fill="#00ff00"/>
<path d="M365.0,551.0 L368.0,550.5 L371.0,549.8 L374.0,548.9 L377.0,547.8 L380.0,546.6 L383.0,545.4 L386.0,544.0 L389.0,542.5 L392.0,540.9 L395.0,539.4 L398.0,537.6 L401.0,535.4 L404.0,533.0 L407.0,530.4 L410.0,527.9 L413.0,525.4 L416.0,523.0 L419.0,520.5 L422.0,518.0 L425.0,515.6 L428.0,513.2 L431.0,511.0 L434.0,509.0 L437.0,507.0 L440.0,505.1 L443.0,503.3 L446.0,501.4 L449.0,499.6 L452.0,497.7 L455.0,495.8 L458.0,493.8 L461.0,491.8 L464.0,489.8 L467.0,487.8 L470.0,485.7 L473.0,483.7 L476.0,481.7 L479.0,479.7 L482.0,477.7 L485.0,475.7 L488.0,473.8 L491.0,471.8 L494.0,469.9 L497.0,467.9 L500.0,466.0 L503.0,464.1 L506.0,462.3 L509.0,460.5 L512.0,458.9 L515.0,457.3 L518.0,455.9 L521.0,454.6 L524.0,453.3 L527.0,451.9 L530.0,450.5 L533.0,448.9 L536.0,447.4 L539.0,445.7 L542.0,444.0 L545.0,442.2 L548.0,440.3 L551.0,438.1 L554.0,435.6 L557.0,433.0 L560.0,430.2 L563.0,427.4 L566.0,424.7 L569.0,421.9 L572.0,418.9 L575.0,416.1 L578.0,413.7 L581.0,411.7 L584.0,409.8 L587.0,408.1 L590.0,406.4 L593.0,404.9 L596.0,403.3 L599.0,401.8 L602.0,400.2 L605.0,398.5 L608.0,396.8 L611.0,395.0 L614.0,393.2 L617.0,391.4 L620.0,389.6 L623.0,387.8 L626.0,386.0 L629.0,384.1 L632.0,382.3 L635.0,380.4 L638.0,378.6 L641.0,376.7 L644.0,374.8 L647.0,373.0 L650.0,371.1 L653.0,369.2 L656.0,367.3 L659.0,365.4 L662.0,363.5 L665.0,361.6 L668.0,359.7 L671.0,357.9 L674.0,356.0 L677.0,354.1 L680.0,352.2 L683.0,350.3 L686.0,348.4 L689.0,346.6 L692.0,344.7 L695.0,342.8 L698.0,341.0 L701.0,339.1 L704.0,337.3 L707.0,335.5 L710.0,333.6 L713.0,331.8 L716.0,330.0 L719.0,328.3 L722.0,326.5 L725.0,324.7 L728.0,323.0 L731.0,321.2 L734.0,319.5 L737.0,317.7 L740.0,316.0 L743.0,314.3 L746.0,312.5 L749.0,310.8 L752.0,309.1 L755.0,307.3 L758.0,305.6 L761.0,303.9 L764.0,302.2 L767.0,300.5 L770.0,298.7 L773.0,297.0 L776.0,295.3 L779.0,293.7 L782.0,292.0 L785.0,290.3 L788.0,288.6 L791.0,286.9 L794.0,285.3 L797.0,283.6 L800.0,282.0 L803.0,280.3 L806.0,278.7 L809.0,277.1 L812.0,275.4 L815.0,273.8 L818.0,272.2 L821.0,270.6 L824.0,269.0 L827.0,267.4 L830.0,265.9 L833.0,264.3 L836.0,262.8 L839.0,261.2 L842.0,259.7 L845.0,258.2 L848.0,256.6 L851.0,255.2 L854.0,253.7 L857.0,252.2 L860.0,250.8 L863.0,249.4 L866.0,248.0 L869.0,246.6 L872.0,245.2 L875.0,243.8 L878.0,242.5 L881.0,241.2 L884.0,240.0 L887.0,238.7 L890.0,237.4 L893.0,236.1 L896.0,234.7 L899.0,233.2 L902.0,231.8 L905.0,230.3 L908.0,228.9 L911.0,227.4 L914.0,225.9 L917.0,224.4 L920.0,222.8 L923.0,221.4 L926.0,220.0 L929.0,218.8 L932.0,217.7 L935.0,216.8 L938.0,215.9 L941.0,215.0 L944.0,214.1 L947.0,213.1 L950.0,212.1 L953.0,211.0 L956.0,210.0 L959.0,208.9 L962.0,207.9 L965.0,206.8 L968.0,205.8 L971.0,204.7 L974.0,203.7 L977.0,202.7 L980.0,201.7 L983.0,200.7 L986.0,199.6 L989.0,198.5 L992.0,197.3 L995.0,196.0 L998.0,194.5 L1001.0,192.9 L1004.0,191.3 L1007.0,189.8 L1010.0,188.5 L1013.0,187.4 L1016.0,186.4 L1019.0,185.5 L1022.0,184.7 L1025.0,183.8 L1028.0,183.0 L1031.0,182.0 L1034.0,181.1 L1037.0,180.2 L1040.0,179.3 L1043.0,178.4 L1046.0,177.5 L1049.0,176.6 L1052.0,175.6 L1055.0,174.6 L1058.0,173.7 L1061.0,173.2 L1064.0,173.0 L1067.0,173.1 L1070.0,173.2 L1073.0,173.3 L1076.0,173.5 L1079.0,173.7 L1082.0,173.9 L1085.0,174.0 L1088.0,174.0 L1091.0,174.0 L1094.0,173.9 L1097.0,173.8 L1100.0,173.7 L1103.0,173.6 L1106.0,173.4 L1109.0,173.2 L1112.0,173.0 L1115.0,172.7 L1118.0,172.5 L1121.0,172.2 L1124.0,171.9 L1127.0,171.6 L1130.0,171.2 L1133.0,170.9 L1136.0,170.6 L1139.0,170.2 L1142.0,169.8 L1145.0,169.5 L1148.0,169.1 L1151.0,168.7 L1154.0,168.4 L1157.0,168.0 L1160.0,167.7 L1163.0,167.3 L1166.0,167.0 L1169.0,166.6 L1172.0,166.3 L1175.0,166.0 L1178.0,165.7 L1181.0,165.5 L1184.0,165.2 L1187.0,165.0 L1190.0,164.8 L1193.0,164.6 L1196.0,164.5 L1199.0,164.4 L1202.0,164.3 L1205.0,164.2 L1208.0,164.2 L1211.0,164.2 L1214.0,164.4 L1217.0,164.6 L1220.0,164.9 L1223.0,165.2 L1226.0,165.6 L1229.0,166.0 L1232.0,166.4 L1235.0,166.8 L1238.0,167.1 L1241.0,167.5 L1244.0,167.7 L1247.0,167.8 L1250.0,167.9 L1253.0,168.0 L1256.0,168.0 L1259.0,168.0 L1262.0,168.0 L1265.0,168.1 L1268.0,168.1 L1271.0,168.1 L1274.0,168.1 L1277.0,168.2 L1280.0,168.3 L1283.0,168.5 L1286.0,168.9 L1289.0,169.4 L1292.0,170.0 L1295.0,170.7 L1298.0,171.4 L1301.0,172.1 L1304.0,172.9 L1307.0,173.6 L1310.0,174.2 L1313.0,174.9 L1316.0,175.6 L1319.0,176.4 L1322.0,177.2 L1325.0,178.0 L1328.0,179.0 L1331.0,180.0 L1334.0,181.2 L1337.0,182.5 L1340.0,184.0 L1343.0,185.4 L1346.0,187.0 L1349.0,188.5 L1352.0,190.0 L1355.0,191.5 L1358.0,192.9 L1361.0,194.3 L1364.0,195.7 L1367.0,197.2 L1370.0,198.8 L1373.0,200.4 L1376.0,202.2 L1379.0,204.1 L1382.0,206.1 L1385.0,208.1 L1388.0,210.0 L1391.0,211.8 L1394.0,213.6 L1397.0,215.2 L1400.0,216.9 L1403.0,218.5 L1406.0,220.1 L1409.0,221.7 L1412.0,223.3 L1415.0,224.9 L1418.0,226.4 L1421.0,228.0 L1424.0,229.6 L1427.0,231.1 L1430.0,232.7 L1433.0,234.2 L1436.0,235.7 L1439.0,237.2 L1442.0,238.8 L1445.0,240.4 L1448.0,242.1 L1451.0,243.9 L1454.0,245.8 L1457.0,247.8 L1460.0,249.8 L1463.0,252.0 L1466.0,254.1 L1469.0,256.2 L1472.0,258.3 L1475.0,260.4 L1478.0,262.4 L1481.0,264.4 L1484.0,266.5 L1487.0,268.5 L1490.0,270.4 L1493.0,272.1 L1496.0,273.5 L1499.0,274.7 L1502.0,275.9 L1505.0,276.9 L1508.0,277.9 L1511.0,278.9 L1514.0,280.0 L1517.0,281.0 L1520.0,281.9 L1523.0,282.9 L1526.0,283.9 L1529.0,285.1 L1532.0,286.4 L1535.0,288.0 L1538.0,289.7 L1541.0,291.4 L1544.0,293.2 L1547.0,294.8 L1550.0,296.2 L1553.0,297.5 L1556.0,298.8 L1559.0,300.0 L1562.0,301.3 L1565.0,302.6 L1568.0,304.2 L1571.0,306.0 L1574.0,308.0 L1577.0,310.1 L1580.0,312.4 L1583.0,314.8 L1586.0,317.4 L1589.0,320.1 L1592.0,323.0 L1595.0,326.0 L1598.0,329.1 L1601.0,332.3 L1604.0,335.7 L1607.0,339.2 L1610.0,342.8 L1613.0,346.6 L1616.0,350.4 L1619.0,354.4 L1622.0,358.4 L1625.0,362.6 L1628.0,366.8 L1631.0,371.2 L1634.0,375.6 L1637.0,380.2 L1640.0,384.8 L1643.0,389.5 L1646.0,394.3 L1649.0,399.2 L1652.0,404.6 L1655.0,411.0 L1658.0,417.8 L1661.0,424.4 L1664.0,431.0 L1667.0,437.7 L1670.0,444.4 L1673.0,451.2 L1676.0,458.2 L1679.0,465.2 L1682.0,472.3 L1685.0,479.6 L1688.0,487.1 L1691.0,494.7 L1694.0,502.5 L1697.0,510.6 L1700.0,518.8 L1703.0,527.2 L1706.0,535.7 L1709.0,544.4 L1712.0,553.1 L1715.0,561.9 L1718.0,570.8 L1721.0,579.6 L1724.0,588.5 L1727.0,597.4 L1730.0,606.2 L1733.0,614.9 L1736.0,623.8 L1739.0,632.6 L1742.0,641.6 L1745.0,650.6 L1748.0,659.8 L1751.0,669.2 L1754.0,678.7 L1757.0,688.7 L1760.0,699.0 L1763.0,708.8 L1766.0,718.5 L1769.0,728.0 L1772.0,737.5 L1775.0,746.9 L1778.0,756.2 L1781.0,765.5 L1784.0,774.7 L1787.0,784.0 L1790.0,793.0 L1793.0,801.9 L1796.0,810.7 L1799.0,819.5 L1802.0,828.5 L1805.0,837.6 L1808.0,847.1 L1811.0,857.0 L1814.0,868.0 L1817.0,878.7 L1820.0,887.7 L1823.0,896.1 L1826.0,904.0 L1829.0,911.5 L1832.0,918.7 L1835.0,925.7 L1838.0,932.7 L1841.0,939.8 L1844.0,947.0 L1847.0,954.5 L1850.0,962.5 L1853.0,971.1 L1856.0,979.3 L1859.0,986.5 L1862.0,993.6 L1865.0,1000.4 L1868.0,1006.9 L1871.0,1013.4 L1874.0,1019.6 L1877.0,1025.7 L1880.0,1031.7 L1883.0,1037.5 L1886.0,1043.3 L1889.0,1049.0 L1892.0,1054.6 L1895.0,1060.2 L1898.0,1065.7 L1901.0,1071.3 L1904.0,1076.7 L1907.0,1082.1 L1910.0,1087.4 L1913.0,1092.6 L1916.0,1097.7 L1919.0,1102.7 L1922.0,1107.5 L1925.0,1112.2 L1928.0,1116.7 L1931.0,1121.1 L1934.0,1125.2 L1937.0,1129.2 L1940.0,1133.1 L1943.0,1136.9 L1946.0,1140.5 L1949.0,1144.0 L1952.0,1147.5 L1955.0,1150.9 L1958.0,1154.2 L1961.0,1157.4 L1964.0,1160.5 L1967.0,1163.5 L1970.0,1166.4 L1973.0,1169.2 L1976.0,1171.9 L1979.0,1174.5 L1982.0,1177.0 L1985.0,1179.4 L1988.0,1181.7 L1991.0,1183.9 L1994.0,1185.9 L1997.0,1187.9 L2000.0,1189.7 L2003.0,1191.4 L2006.0,1193.2 L2009.0,1194.9 L2012.0,1196.6 L2015.0,1198.4 L2018.0,1200.2 L2021.0,1201.9 L2024.0,1203.5 L2027.0,1204.9 L2030.0,1206.2 L2033.0,1207.3 L2036.0,1208.3 L2039.0,1209.3 L2042.0,1210.2 L2045.0,1211.1 L2048.0,1212.0 L2051.0,1212.9 L2054.0,1213.7 L2057.0,1214.6 L2060.0,1215.4 L2063.0,1216.3 L2066.0,1217.1 L2069.0,1217.9 L2072.0,1218.7 L2075.0,1219.5 L2078.0,1220.3 L2081.0,1221.0 L2084.0,1221.8 L2087.0,1222.5 L2090.0,1223.2 L2093.0,1223.9 L2096.0,1224.6 L2099.0,1225.3 L2102.0,1225.9 L2105.0,1226.5 L2108.0,1227.1 L2111.0,1227.7 L2114.0,1228.3 L2117.0,1228.9 L2120.0,1229.5 L2123.0,1230.1 L2126.0,1230.6 L2129.0,1231.1 L2132.0,1231.6 L2135.0,1232.1 L2138.0,1232.5 L2141.0,1232.9 L2144.0,1233.3 L2147.0,1233.6 L2150.0,1234.0 L2153.0,1234.3 L2156.0,1234.6 L2159.0,1234.9 L2162.0,1235.1 L2165.0,1235.3 L2168.0,1235.6 L2171.0,1235.7 L2172.0,1235.8" stroke="#ff0000" stroke-width="18"/>
<path d="M363.8,521.0 h2.4 L392.0,567.5 v0.8 H338.0 v-0.8 Z" fill="#ff0000"/>
<path d="M484.3,445.4 h2.4 L512.5,491.9 v0.8 H458.5 v-0.8 Z" fill="#ff0000"/>
<path d="M604.7,368.0 h2.4 L632.9,414.5 v0.8 H578.9 v-0.8 Z" fill="#ff0000"/>
<path d="M725.2,293.9 h2.4 L753.4,340.4 v0.8 H699.4 v-0.8 Z" fill="#ff0000"/>
<path d="M845.7,227.2 h2.4 L873.9,273.7 v0.8 H819.9 v-0.8 Z" fill="#ff0000"/>
<path d="M966.1,176.0 h2.4 L994.3,222.5 v0.8 H940.3 v-0.8 Z" fill="#ff0000"/>
<path d="M1086.6,144.0 h2.4 L1114.8,190.5 v0.8 H1060.8 v-0.8 Z" fill="#ff0000"/>
<path d="M1207.1,134.2 h2.4 L1235.3,180.7 v0.8 H1181.3 v-0.8 Z" fill="#ff0000"/>
<path d="M1327.5,149.2 h2.4 L1355.7,195.7 v0.8 H1301.7 v-0.8 Z" fill="#ff0000"/>
<path d="M1448.0,212.8 h2.4 L1476.2,259.3 v0.8 H1422.2 v-0.8 Z" fill="#ff0000"/>
<path d="M1568.5,275.2 h2.4 L1596.7,321.7 v0.8 H1542.7 v-0.8 Z" fill="#ff0000"/>
<path d="M1688.9,462.4 h2.4 L1717.1,508.9 v0.8 H1663.1 v-0.8 Z" fill="#ff0000"/>
<path d="M1809.4,825.6 h2.4 L1837.6,872.1 v0.8 H1783.6 v-0.8 Z" fill="#ff0000"/>
<path d="M1929.9,1091.2 h2.4 L1958.1,1137.7 v0.8 H1904.1 v-0.8 Z" fill="#ff0000"/>
<path d="M2050.3,1183.0 h2.4 L2078.5,1229.5 v0.8 H2024.5 v-0.8 Z" fill="#ff0000"/>
<path d="M2170.8,1205.8 h2.4 L2199.0,1252.3 v0.8 H2145.0 v-0.8 Z" fill="#ff0000"/>
</g>
<rect x="474" y="964.8" width="108" height="18" fill="#ff0000"/>
<path d="M526.8,943.8 h2.4 L555.0,990.3 v0.8 H501.0 v-0.8 Z" fill="#ff0000"/>
<rect x="474" y="1100.9" width="108" height="18" fill="#00ff00"/>
<circle cx="528.0" cy="1110.8" r="23" fill="#00ff00"/>
<rect x="474" y="1236.1" width="108" height="18" fill="#0000ff"/>
<rect x="507.3" y="1224.7" width="41.4" height="40.8" fill="#0000ff"/>
<g fill="#000">
<text transform="translate(609.5,991) scale(0.952,1)" font-size="109.2" text-anchor="start">CF</text>
<text transform="translate(612.2,1126.7) scale(0.952,1)" font-size="109.2" text-anchor="start">CB</text>
<text transform="translate(612.3,1262) scale(0.952,1)" font-size="109.2" text-anchor="start">TCB</text>
<text transform="translate(335.5,1287.6) scale(0.97,1)" font-size="94.5" text-anchor="end">0.0</text>
<text transform="translate(335.5,1067.8) scale(0.97,1)" font-size="94.5" text-anchor="end">0.2</text>
<text transform="translate(335.5,848.0) scale(0.97,1)" font-size="94.5" text-anchor="end">0.4</text>
<text transform="translate(335.5,628.2) scale(0.97,1)" font-size="94.5" text-anchor="end">0.6</text>
<text transform="translate(335.5,408.4) scale(0.97,1)" font-size="94.5" text-anchor="end">0.8</text>
<text transform="translate(335.5,188.6) scale(0.97,1)" font-size="94.5" text-anchor="end">1.0</text>
<text transform="translate(365.0,1471.7) scale(0.97,1)" font-size="94.5" text-anchor="middle">400</text>
<text transform="translate(666.2,1471.7) scale(0.97,1)" font-size="94.5" text-anchor="middle">450</text>
<text transform="translate(967.3,1471.7) scale(0.97,1)" font-size="94.5" text-anchor="middle">500</text>
<text transform="translate(1268.5,1471.7) scale(0.97,1)" font-size="94.5" text-anchor="middle">550</text>
<text transform="translate(1569.7,1471.7) scale(0.97,1)" font-size="94.5" text-anchor="middle">600</text>
<text transform="translate(1870.8,1471.7) scale(0.97,1)" font-size="94.5" text-anchor="middle">650</text>
<text transform="translate(2172.0,1471.7) scale(0.97,1)" font-size="94.5" text-anchor="middle">700</text>
<text transform="translate(1269.3,1640) scale(0.986,1)" font-size="105" text-anchor="middle">Wavelength (nm)</text>
<text transform="translate(98.2,725.5) rotate(-90) scale(1.014,1)" font-size="107" text-anchor="middle">Norm. Absorbance</text>
</g>
</svg>
</body></html>
